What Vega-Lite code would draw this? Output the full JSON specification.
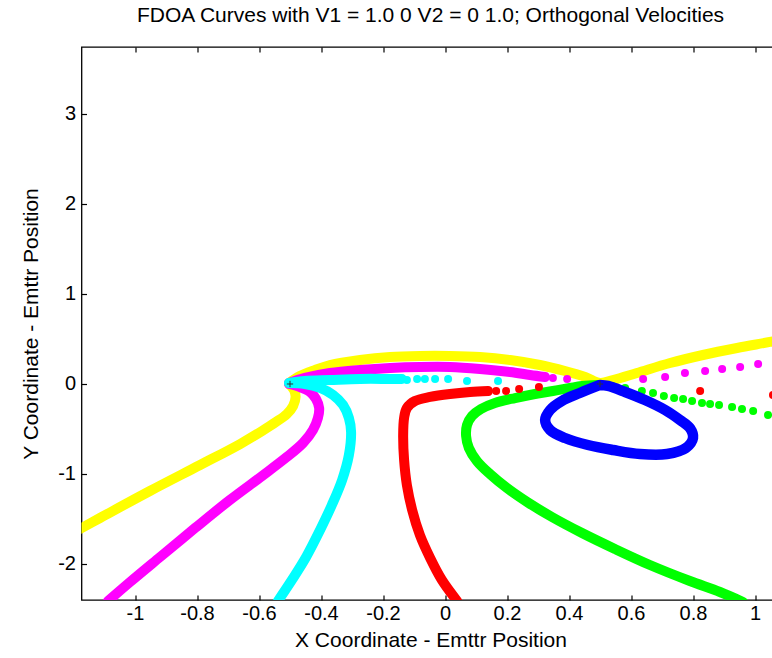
{
  "$schema": "https://vega.github.io/schema/vega-lite/v6.json",
  "autosize": "none",
  "width": 698,
  "height": 553,
  "padding": {"left": 81.5, "top": 47, "right": 0, "bottom": 58},
  "background": "white",
  "title": {"text": "FDOA Curves with V1 = 1.0 0 V2 = 0 1.0; Orthogonal Velocities", "font": "Liberation Sans", "fontSize": 21, "fontWeight": "normal", "color": "black", "anchor": "middle", "offset": 20},
  "config": {
    "view": {"stroke": "black", "strokeWidth": 1.3},
    "axis": {"domain": false, "tickColor": "black", "tickWidth": 1.2, "tickSize": 5, "offset": -5, "labelColor": "black", "titleColor": "black", "labelFont": "Liberation Sans", "titleFont": "Liberation Sans", "labelFontSize": 20, "titleFontSize": 21, "titleFontWeight": "normal", "grid": false}
  },
  "datasets": {
    "lines": [
      {"c": "yellow", "s": "Y1", "i": 0, "x": -0.503, "y": 0},
      {"c": "yellow", "s": "Y1", "i": 1, "x": -0.487, "y": -0.067},
      {"c": "yellow", "s": "Y1", "i": 2, "x": -0.482, "y": -0.144},
      {"c": "yellow", "s": "Y1", "i": 3, "x": -0.49, "y": -0.244},
      {"c": "yellow", "s": "Y1", "i": 4, "x": -0.51, "y": -0.333},
      {"c": "yellow", "s": "Y1", "i": 5, "x": -0.545, "y": -0.422},
      {"c": "yellow", "s": "Y1", "i": 6, "x": -0.59, "y": -0.522},
      {"c": "yellow", "s": "Y1", "i": 7, "x": -0.661, "y": -0.667},
      {"c": "yellow", "s": "Y1", "i": 8, "x": -0.79, "y": -0.9},
      {"c": "yellow", "s": "Y1", "i": 9, "x": -0.952, "y": -1.189},
      {"c": "yellow", "s": "Y1", "i": 10, "x": -1.113, "y": -1.489},
      {"c": "yellow", "s": "Y1", "i": 11, "x": -1.184, "y": -1.622},
      {"c": "yellow", "s": "Y2", "i": 0, "x": -0.503, "y": 0.011},
      {"c": "yellow", "s": "Y2", "i": 1, "x": -0.468, "y": 0.089},
      {"c": "yellow", "s": "Y2", "i": 2, "x": -0.419, "y": 0.156},
      {"c": "yellow", "s": "Y2", "i": 3, "x": -0.371, "y": 0.211},
      {"c": "yellow", "s": "Y2", "i": 4, "x": -0.274, "y": 0.267},
      {"c": "yellow", "s": "Y2", "i": 5, "x": -0.177, "y": 0.3},
      {"c": "yellow", "s": "Y2", "i": 6, "x": -0.081, "y": 0.311},
      {"c": "yellow", "s": "Y2", "i": 7, "x": 0.016, "y": 0.311},
      {"c": "yellow", "s": "Y2", "i": 8, "x": 0.113, "y": 0.3},
      {"c": "yellow", "s": "Y2", "i": 9, "x": 0.21, "y": 0.267},
      {"c": "yellow", "s": "Y2", "i": 10, "x": 0.306, "y": 0.211},
      {"c": "yellow", "s": "Y2", "i": 11, "x": 0.387, "y": 0.144},
      {"c": "yellow", "s": "Y2", "i": 12, "x": 0.452, "y": 0.078},
      {"c": "yellow", "s": "Y2", "i": 13, "x": 0.5, "y": 0.011},
      {"c": "yellow", "s": "Y2", "i": 14, "x": 0.542, "y": 0.044},
      {"c": "yellow", "s": "Y2", "i": 15, "x": 0.619, "y": 0.122},
      {"c": "yellow", "s": "Y2", "i": 16, "x": 0.726, "y": 0.233},
      {"c": "yellow", "s": "Y2", "i": 17, "x": 0.832, "y": 0.322},
      {"c": "yellow", "s": "Y2", "i": 18, "x": 0.942, "y": 0.4},
      {"c": "yellow", "s": "Y2", "i": 19, "x": 1.048, "y": 0.467},
      {"c": "yellow", "s": "Y2", "i": 20, "x": 1.113, "y": 0.511},
      {"c": "magenta", "s": "M1", "i": 0, "x": -0.503, "y": 0},
      {"c": "magenta", "s": "M1", "i": 1, "x": -0.468, "y": -0.033},
      {"c": "magenta", "s": "M1", "i": 2, "x": -0.435, "y": -0.089},
      {"c": "magenta", "s": "M1", "i": 3, "x": -0.416, "y": -0.167},
      {"c": "magenta", "s": "M1", "i": 4, "x": -0.406, "y": -0.267},
      {"c": "magenta", "s": "M1", "i": 5, "x": -0.41, "y": -0.378},
      {"c": "magenta", "s": "M1", "i": 6, "x": -0.426, "y": -0.511},
      {"c": "magenta", "s": "M1", "i": 7, "x": -0.458, "y": -0.656},
      {"c": "magenta", "s": "M1", "i": 8, "x": -0.51, "y": -0.811},
      {"c": "magenta", "s": "M1", "i": 9, "x": -0.59, "y": -1.022},
      {"c": "magenta", "s": "M1", "i": 10, "x": -0.694, "y": -1.289},
      {"c": "magenta", "s": "M1", "i": 11, "x": -0.806, "y": -1.6},
      {"c": "magenta", "s": "M1", "i": 12, "x": -0.919, "y": -1.922},
      {"c": "magenta", "s": "M1", "i": 13, "x": -1.016, "y": -2.2},
      {"c": "magenta", "s": "M1", "i": 14, "x": -1.087, "y": -2.411},
      {"c": "magenta", "s": "M2", "i": 0, "x": -0.503, "y": 0.011},
      {"c": "magenta", "s": "M2", "i": 1, "x": -0.452, "y": 0.067},
      {"c": "magenta", "s": "M2", "i": 2, "x": -0.371, "y": 0.122},
      {"c": "magenta", "s": "M2", "i": 3, "x": -0.274, "y": 0.156},
      {"c": "magenta", "s": "M2", "i": 4, "x": -0.177, "y": 0.178},
      {"c": "magenta", "s": "M2", "i": 5, "x": -0.081, "y": 0.189},
      {"c": "magenta", "s": "M2", "i": 6, "x": 0.016, "y": 0.189},
      {"c": "magenta", "s": "M2", "i": 7, "x": 0.113, "y": 0.167},
      {"c": "magenta", "s": "M2", "i": 8, "x": 0.21, "y": 0.133},
      {"c": "magenta", "s": "M2", "i": 9, "x": 0.274, "y": 0.1},
      {"c": "magenta", "s": "M2", "i": 10, "x": 0.323, "y": 0.078},
      {"c": "cyan", "s": "C1", "i": 0, "x": -0.503, "y": 0.011},
      {"c": "cyan", "s": "C1", "i": 1, "x": -0.452, "y": 0},
      {"c": "cyan", "s": "C1", "i": 2, "x": -0.403, "y": -0.044},
      {"c": "cyan", "s": "C1", "i": 3, "x": -0.361, "y": -0.122},
      {"c": "cyan", "s": "C1", "i": 4, "x": -0.329, "y": -0.233},
      {"c": "cyan", "s": "C1", "i": 5, "x": -0.31, "y": -0.378},
      {"c": "cyan", "s": "C1", "i": 6, "x": -0.303, "y": -0.533},
      {"c": "cyan", "s": "C1", "i": 7, "x": -0.31, "y": -0.789},
      {"c": "cyan", "s": "C1", "i": 8, "x": -0.332, "y": -1.067},
      {"c": "cyan", "s": "C1", "i": 9, "x": -0.365, "y": -1.344},
      {"c": "cyan", "s": "C1", "i": 10, "x": -0.403, "y": -1.622},
      {"c": "cyan", "s": "C1", "i": 11, "x": -0.448, "y": -1.922},
      {"c": "cyan", "s": "C1", "i": 12, "x": -0.494, "y": -2.178},
      {"c": "cyan", "s": "C1", "i": 13, "x": -0.539, "y": -2.411},
      {"c": "cyan", "s": "C2", "i": 0, "x": -0.503, "y": 0.011},
      {"c": "cyan", "s": "C2", "i": 1, "x": -0.452, "y": 0.033},
      {"c": "cyan", "s": "C2", "i": 2, "x": -0.371, "y": 0.044},
      {"c": "cyan", "s": "C2", "i": 3, "x": -0.274, "y": 0.056},
      {"c": "cyan", "s": "C2", "i": 4, "x": -0.177, "y": 0.056},
      {"c": "cyan", "s": "C2", "i": 5, "x": -0.139, "y": 0.056},
      {"c": "red", "s": "R1", "i": 0, "x": 0.139, "y": -0.078},
      {"c": "red", "s": "R1", "i": 1, "x": 0.081, "y": -0.089},
      {"c": "red", "s": "R1", "i": 2, "x": 0.016, "y": -0.111},
      {"c": "red", "s": "R1", "i": 3, "x": -0.048, "y": -0.144},
      {"c": "red", "s": "R1", "i": 4, "x": -0.097, "y": -0.189},
      {"c": "red", "s": "R1", "i": 5, "x": -0.123, "y": -0.267},
      {"c": "red", "s": "R1", "i": 6, "x": -0.132, "y": -0.378},
      {"c": "red", "s": "R1", "i": 7, "x": -0.135, "y": -0.567},
      {"c": "red", "s": "R1", "i": 8, "x": -0.132, "y": -0.844},
      {"c": "red", "s": "R1", "i": 9, "x": -0.123, "y": -1.122},
      {"c": "red", "s": "R1", "i": 10, "x": -0.106, "y": -1.4},
      {"c": "red", "s": "R1", "i": 11, "x": -0.081, "y": -1.678},
      {"c": "red", "s": "R1", "i": 12, "x": -0.048, "y": -1.933},
      {"c": "red", "s": "R1", "i": 13, "x": -0.01, "y": -2.178},
      {"c": "red", "s": "R1", "i": 14, "x": 0.039, "y": -2.411},
      {"c": "green", "s": "G1", "i": 0, "x": 0.494, "y": -0.011},
      {"c": "green", "s": "G1", "i": 1, "x": 0.442, "y": -0.022},
      {"c": "green", "s": "G1", "i": 2, "x": 0.403, "y": -0.044},
      {"c": "green", "s": "G1", "i": 3, "x": 0.348, "y": -0.078},
      {"c": "green", "s": "G1", "i": 4, "x": 0.29, "y": -0.111},
      {"c": "green", "s": "G1", "i": 5, "x": 0.226, "y": -0.156},
      {"c": "green", "s": "G1", "i": 6, "x": 0.161, "y": -0.211},
      {"c": "green", "s": "G1", "i": 7, "x": 0.116, "y": -0.278},
      {"c": "green", "s": "G1", "i": 8, "x": 0.087, "y": -0.356},
      {"c": "green", "s": "G1", "i": 9, "x": 0.071, "y": -0.456},
      {"c": "green", "s": "G1", "i": 10, "x": 0.068, "y": -0.578},
      {"c": "green", "s": "G1", "i": 11, "x": 0.077, "y": -0.711},
      {"c": "green", "s": "G1", "i": 12, "x": 0.103, "y": -0.856},
      {"c": "green", "s": "G1", "i": 13, "x": 0.145, "y": -1.0},
      {"c": "green", "s": "G1", "i": 14, "x": 0.2, "y": -1.156},
      {"c": "green", "s": "G1", "i": 15, "x": 0.265, "y": -1.311},
      {"c": "green", "s": "G1", "i": 16, "x": 0.345, "y": -1.478},
      {"c": "green", "s": "G1", "i": 17, "x": 0.442, "y": -1.656},
      {"c": "green", "s": "G1", "i": 18, "x": 0.548, "y": -1.833},
      {"c": "green", "s": "G1", "i": 19, "x": 0.661, "y": -2.011},
      {"c": "green", "s": "G1", "i": 20, "x": 0.79, "y": -2.189},
      {"c": "green", "s": "G1", "i": 21, "x": 0.887, "y": -2.311},
      {"c": "green", "s": "G1", "i": 22, "x": 0.961, "y": -2.422},
      {"c": "blue", "s": "B1", "i": 0, "x": 0.5, "y": -0.011},
      {"c": "blue", "s": "B1", "i": 1, "x": 0.435, "y": -0.1},
      {"c": "blue", "s": "B1", "i": 2, "x": 0.377, "y": -0.189},
      {"c": "blue", "s": "B1", "i": 3, "x": 0.339, "y": -0.289},
      {"c": "blue", "s": "B1", "i": 4, "x": 0.323, "y": -0.4},
      {"c": "blue", "s": "B1", "i": 5, "x": 0.339, "y": -0.511},
      {"c": "blue", "s": "B1", "i": 6, "x": 0.387, "y": -0.6},
      {"c": "blue", "s": "B1", "i": 7, "x": 0.461, "y": -0.678},
      {"c": "blue", "s": "B1", "i": 8, "x": 0.542, "y": -0.733},
      {"c": "blue", "s": "B1", "i": 9, "x": 0.629, "y": -0.778},
      {"c": "blue", "s": "B1", "i": 10, "x": 0.716, "y": -0.778},
      {"c": "blue", "s": "B1", "i": 11, "x": 0.777, "y": -0.711},
      {"c": "blue", "s": "B1", "i": 12, "x": 0.8, "y": -0.6},
      {"c": "blue", "s": "B1", "i": 13, "x": 0.79, "y": -0.489},
      {"c": "blue", "s": "B1", "i": 14, "x": 0.758, "y": -0.4},
      {"c": "blue", "s": "B1", "i": 15, "x": 0.71, "y": -0.289},
      {"c": "blue", "s": "B1", "i": 16, "x": 0.645, "y": -0.178},
      {"c": "blue", "s": "B1", "i": 17, "x": 0.581, "y": -0.089},
      {"c": "blue", "s": "B1", "i": 18, "x": 0.526, "y": -0.022},
      {"c": "blue", "s": "B1", "i": 19, "x": 0.5, "y": -0.011}
    ],
    "dots": [
      {"c": "magenta", "x": 0.348, "y": 0.067},
      {"c": "magenta", "x": 0.394, "y": 0.056},
      {"c": "magenta", "x": 0.639, "y": 0.056},
      {"c": "magenta", "x": 0.71, "y": 0.078},
      {"c": "magenta", "x": 0.774, "y": 0.122},
      {"c": "magenta", "x": 0.839, "y": 0.144},
      {"c": "magenta", "x": 0.894, "y": 0.167},
      {"c": "magenta", "x": 0.952, "y": 0.189},
      {"c": "magenta", "x": 1.01, "y": 0.222},
      {"c": "magenta", "x": 1.068, "y": 0.244},
      {"c": "cyan", "x": -0.123, "y": 0.044},
      {"c": "cyan", "x": -0.09, "y": 0.056},
      {"c": "cyan", "x": -0.065, "y": 0.056},
      {"c": "cyan", "x": -0.032, "y": 0.056},
      {"c": "cyan", "x": 0.01, "y": 0.056},
      {"c": "cyan", "x": 0.071, "y": 0.033},
      {"c": "cyan", "x": 0.171, "y": 0.033},
      {"c": "red", "x": 0.165, "y": -0.078},
      {"c": "red", "x": 0.197, "y": -0.078},
      {"c": "red", "x": 0.239, "y": -0.056},
      {"c": "red", "x": 0.303, "y": -0.033},
      {"c": "red", "x": 0.823, "y": -0.078},
      {"c": "red", "x": 1.058, "y": -0.122},
      {"c": "green", "x": 0.539, "y": -0.022},
      {"c": "green", "x": 0.581, "y": -0.044},
      {"c": "green", "x": 0.635, "y": -0.078},
      {"c": "green", "x": 0.671, "y": -0.1},
      {"c": "green", "x": 0.706, "y": -0.133},
      {"c": "green", "x": 0.739, "y": -0.156},
      {"c": "green", "x": 0.768, "y": -0.167},
      {"c": "green", "x": 0.797, "y": -0.189},
      {"c": "green", "x": 0.829, "y": -0.211},
      {"c": "green", "x": 0.855, "y": -0.222},
      {"c": "green", "x": 0.884, "y": -0.233},
      {"c": "green", "x": 0.926, "y": -0.256},
      {"c": "green", "x": 0.958, "y": -0.278},
      {"c": "green", "x": 0.994, "y": -0.3},
      {"c": "green", "x": 1.042, "y": -0.344}
    ],
    "emit": [
      {"x": -0.5, "y": 0},
      {"x": 0.5, "y": 0}
    ]
  },
  "resolve": {"axis": {"x": "independent", "y": "independent"}},
  "layer": [
    {
      "data": {"name": "lines"},
      "transform": [{"filter": "datum.c !== 'blue'"}],
      "mark": {"type": "line", "strokeWidth": 10, "strokeCap": "round", "strokeJoin": "round", "interpolate": "catmull-rom", "clip": true},
      "encoding": {
        "x": {"field": "x", "type": "quantitative", "scale": {"domain": [-1.1726, 1.079], "nice": false, "zero": false},
          "axis": {"orient": "bottom", "values": [-1, -0.8, -0.6, -0.4, -0.2, 0, 0.2, 0.4, 0.6, 0.8, 1], "labelExpr": "'' + datum.value", "labelPadding": 3, "title": "X Coordinate - Emttr Position", "titlePadding": 6}},
        "y": {"field": "y", "type": "quantitative", "scale": {"domain": [-2.4, 3.744], "nice": false, "zero": false},
          "axis": {"values": [-2, -1, 0, 1, 2, 3], "labelExpr": "'' + datum.value", "labelPadding": 6, "title": "Y Coordinate - Emttr Position", "titlePadding": 16}},
        "color": {"field": "c", "type": "nominal", "scale": {"domain": ["yellow", "magenta", "cyan", "red", "green", "blue"], "range": ["#ffff00", "#ff00ff", "#00ffff", "#ff0000", "#00ff00", "#0000ff"]}, "legend": null},
        "detail": {"field": "s", "type": "nominal"},
        "order": {"field": "i", "type": "quantitative"}
      }
    },
    {
      "data": {"name": "dots"},
      "mark": {"type": "circle", "size": 64, "opacity": 1, "clip": true},
      "encoding": {
        "x": {"field": "x", "type": "quantitative", "axis": null},
        "y": {"field": "y", "type": "quantitative", "axis": null},
        "color": {"field": "c", "type": "nominal", "legend": null}
      }
    },
    {
      "data": {"name": "lines"},
      "transform": [{"filter": "datum.c === 'blue'"}],
      "mark": {"type": "line", "strokeWidth": 10.5, "strokeCap": "round", "strokeJoin": "round", "interpolate": "catmull-rom", "clip": true},
      "encoding": {
        "x": {"field": "x", "type": "quantitative", "axis": null},
        "y": {"field": "y", "type": "quantitative", "axis": null},
        "color": {"field": "c", "type": "nominal", "legend": null},
        "detail": {"field": "s", "type": "nominal"},
        "order": {"field": "i", "type": "quantitative"}
      }
    },
    {
      "data": {"name": "emit"},
      "mark": {"type": "point", "shape": "M-1,0H1M0,-1V1", "size": 40, "stroke": "#333333", "strokeWidth": 1, "filled": false, "opacity": 1},
      "encoding": {
        "x": {"field": "x", "type": "quantitative",
          "axis": {"orient": "top", "values": [-1, -0.8, -0.6, -0.4, -0.2, 0, 0.2, 0.4, 0.6, 0.8, 1], "labels": false, "title": null}},
        "y": {"field": "y", "type": "quantitative", "axis": null}
      }
    }
  ]
}
